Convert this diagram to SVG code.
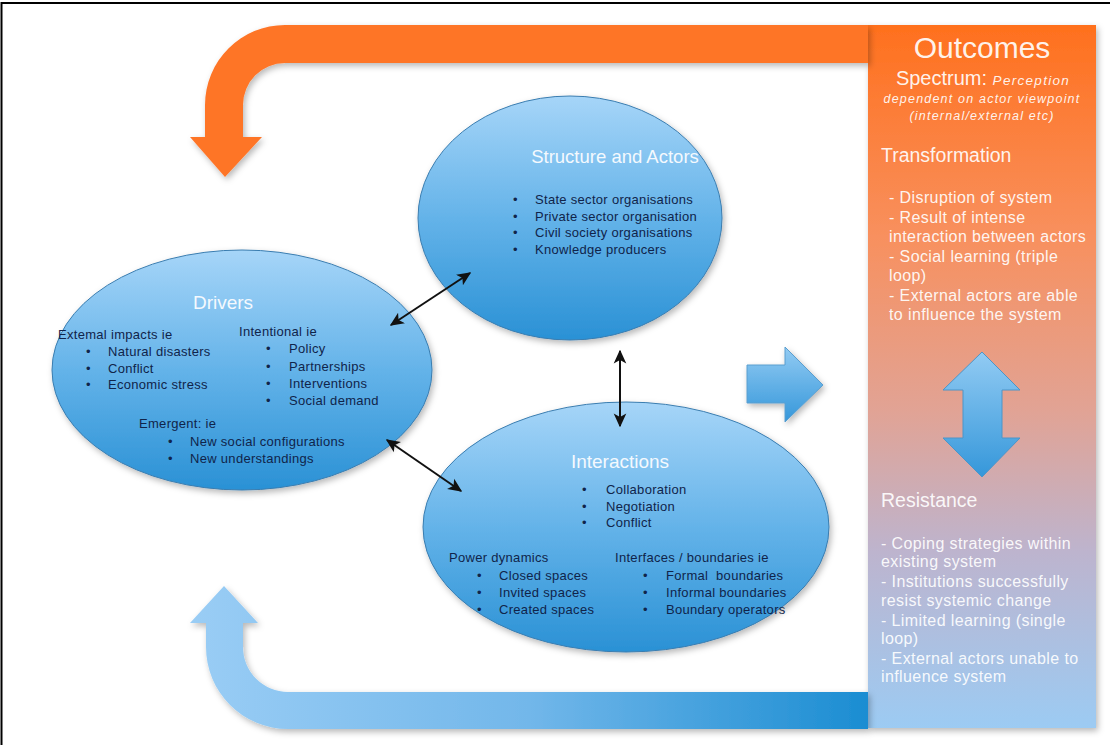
<svg xmlns="http://www.w3.org/2000/svg" width="1110" height="745" viewBox="0 0 1110 745">
<defs>
<style>
.title{font-family:"Liberation Sans",Arial,sans-serif;fill:#F4F9FE;text-anchor:middle}
.sm{font-family:"Liberation Sans",Arial,sans-serif;font-size:13px;letter-spacing:0.3px;fill:#10244a}
.out{font-family:"Liberation Sans",Arial,sans-serif;fill:#FFFFFF;fill-opacity:0.92}
.body{font-size:16px;letter-spacing:0.4px}
.ell{stroke:#3A7DB0;stroke-width:1;filter:url(#sh)}
.conn{stroke:#111;stroke-width:2;fill:none;marker-start:url(#ah);marker-end:url(#ah)}
</style>
<linearGradient id="gEll" x1="0" y1="0" x2="0" y2="1">
<stop offset="0" stop-color="#A6D5F8"/>
<stop offset="0.5" stop-color="#64B3E9"/>
<stop offset="1" stop-color="#2A91D5"/>
</linearGradient>
<linearGradient id="gPanel" x1="0" y1="0" x2="0" y2="1">
<stop offset="0" stop-color="#FF701D"/>
<stop offset="0.3" stop-color="#F8905E"/>
<stop offset="0.55" stop-color="#E1A395"/>
<stop offset="0.75" stop-color="#BDB4CE"/>
<stop offset="1" stop-color="#9CCBF3"/>
</linearGradient>
<linearGradient id="gBand" gradientUnits="userSpaceOnUse" x1="190" y1="0" x2="868" y2="0">
<stop offset="0" stop-color="#9ACDF5"/>
<stop offset="0.5" stop-color="#72B7EA"/>
<stop offset="1" stop-color="#1B8DD2"/>
</linearGradient>
<linearGradient id="gBlk" x1="0" y1="0" x2="0" y2="1">
<stop offset="0" stop-color="#92CBF3"/>
<stop offset="1" stop-color="#3597DA"/>
</linearGradient>
<filter id="sh" x="-10%" y="-10%" width="125%" height="125%">
<feDropShadow dx="2" dy="3" stdDeviation="3" flood-color="#000" flood-opacity="0.28"/>
</filter>
<marker id="ah" viewBox="0 0 10 10" refX="9" refY="5" markerWidth="7" markerHeight="7" orient="auto-start-reverse" markerUnits="strokeWidth">
<path d="M0,0.5 L10,5 L0,9.5 L2.5,5 Z" fill="#111"/>
</marker>
</defs>
<rect width="1110" height="745" fill="#FFFFFF"/>
<path d="M1.5,745 L1.5,3 L1110,3" fill="none" stroke="#000" stroke-width="2"/>

<g id="node-outcomes">
<rect x="868" y="25" width="228" height="703" fill="url(#gPanel)" filter="url(#sh)"/>
<text class="out" x="982" y="58" font-size="30" text-anchor="middle">Outcomes</text>
<text class="out" x="983" y="85" text-anchor="middle"><tspan font-size="20">Spectrum: </tspan><tspan font-size="13.5" font-style="italic" letter-spacing="1.3">Perception</tspan></text>
<text class="out" x="982" y="103" font-size="12.5" font-style="italic" letter-spacing="1.2" text-anchor="middle">dependent on actor viewpoint</text>
<text class="out" x="982" y="120" font-size="12.5" font-style="italic" letter-spacing="1.2" text-anchor="middle">(internal/external etc)</text>
<text class="out" x="881" y="162" font-size="19.5">Transformation</text>
<text class="out body" x="889" y="203">- Disruption of system</text>
<text class="out body" x="889" y="223">- Result of intense</text>
<text class="out body" x="889" y="242">interaction between actors</text>
<text class="out body" x="889" y="262">- Social learning (triple</text>
<text class="out body" x="889" y="281">loop)</text>
<text class="out body" x="889" y="301">- External actors are able</text>
<text class="out body" x="889" y="320">to influence the system</text>
<path d="M982,352 L1020,390 L1002,390 L1002,438 L1020,438 L982,477 L943,438 L963,438 L963,390 L943,390 Z" fill="url(#gBlk)" stroke="#4C95C8" stroke-width="1"/>
<text class="out" x="881" y="507" font-size="19.5">Resistance</text>
<text class="out body" x="881" y="549">- Coping strategies within</text>
<text class="out body" x="881" y="567">existing system</text>
<text class="out body" x="881" y="587">- Institutions successfully</text>
<text class="out body" x="881" y="606">resist systemic change</text>
<text class="out body" x="881" y="626">- Limited learning (single</text>
<text class="out body" x="881" y="644">loop)</text>
<text class="out body" x="881" y="664">- External actors unable to</text>
<text class="out body" x="881" y="682">influence system</text>
</g>

<g id="node-structure">
<ellipse class="ell" cx="570" cy="218" rx="152" ry="122" fill="url(#gEll)"/>
<text class="title" x="615" y="163" font-size="18.5">Structure and Actors</text>
<text class="sm" x="513" y="204">•</text><text class="sm" x="535" y="204">State sector organisations</text>
<text class="sm" x="513" y="221">•</text><text class="sm" x="535" y="221">Private sector organisation</text>
<text class="sm" x="513" y="237">•</text><text class="sm" x="535" y="237">Civil society organisations</text>
<text class="sm" x="513" y="254">•</text><text class="sm" x="535" y="254">Knowledge producers</text>
</g>

<g id="node-drivers">
<ellipse class="ell" cx="242" cy="370" rx="190" ry="120" fill="url(#gEll)"/>
<text class="title" x="223" y="309" font-size="19">Drivers</text>
<text class="sm" x="58" y="339">Extemal impacts ie</text>
<text class="sm" x="86" y="356">•</text><text class="sm" x="108" y="356">Natural disasters</text>
<text class="sm" x="86" y="373">•</text><text class="sm" x="108" y="373">Conflict</text>
<text class="sm" x="86" y="389">•</text><text class="sm" x="108" y="389">Economic stress</text>
<text class="sm" x="239" y="336">Intentional ie</text>
<text class="sm" x="266" y="353">•</text><text class="sm" x="289" y="353">Policy</text>
<text class="sm" x="266" y="371">•</text><text class="sm" x="289" y="371">Partnerships</text>
<text class="sm" x="266" y="388">•</text><text class="sm" x="289" y="388">Interventions</text>
<text class="sm" x="266" y="405">•</text><text class="sm" x="289" y="405">Social demand</text>
<text class="sm" x="139" y="428">Emergent: ie</text>
<text class="sm" x="168" y="446">•</text><text class="sm" x="190" y="446">New social configurations</text>
<text class="sm" x="168" y="463">•</text><text class="sm" x="190" y="463">New understandings</text>
</g>

<g id="node-interactions">
<ellipse class="ell" cx="626" cy="527" rx="203" ry="125" fill="url(#gEll)"/>
<text class="title" x="620" y="468" font-size="19">Interactions</text>
<text class="sm" x="582" y="494">•</text><text class="sm" x="606" y="494">Collaboration</text>
<text class="sm" x="582" y="511">•</text><text class="sm" x="606" y="511">Negotiation</text>
<text class="sm" x="582" y="527">•</text><text class="sm" x="606" y="527">Conflict</text>
<text class="sm" x="449" y="562">Power dynamics</text>
<text class="sm" x="477" y="580">•</text><text class="sm" x="499" y="580">Closed spaces</text>
<text class="sm" x="477" y="597">•</text><text class="sm" x="499" y="597">Invited spaces</text>
<text class="sm" x="477" y="614">•</text><text class="sm" x="499" y="614">Created spaces</text>
<text class="sm" x="615" y="562">Interfaces / boundaries ie</text>
<text class="sm" x="643" y="580">•</text><text class="sm" x="666" y="580" xml:space="preserve">Formal  boundaries</text>
<text class="sm" x="643" y="597">•</text><text class="sm" x="666" y="597">Informal boundaries</text>
<text class="sm" x="643" y="614">•</text><text class="sm" x="666" y="614">Boundary operators</text>
</g>

<g id="connectors">
<path id="loop-top" d="M868,25 L285,25 A80,80 0 0 0 205,105 L205,137 L190,137 L225,177 L262,137 L243,137 L243,105 A42,42 0 0 1 285,63 L868,63 Z" fill="#FE7528" filter="url(#sh)"/>
<path id="loop-bottom" d="M868,692 L288,692 A45,45 0 0 1 243,647 L243,623 L258,623 L224,586 L190,623 L206,623 L206,647 A82,82 0 0 0 288,729 L868,729 Z" fill="url(#gBand)" filter="url(#sh)"/>
<path id="to-outcomes" d="M747,365 L785,365 L785,347 L823,385 L785,422 L785,403 L747,403 Z" fill="url(#gBlk)" stroke="#5A9ECF" stroke-width="1" filter="url(#sh)"/>
<line class="conn" x1="391" y1="325" x2="470" y2="273"/>
<line class="conn" x1="620" y1="351" x2="620" y2="426"/>
<line class="conn" x1="387" y1="440" x2="461" y2="491"/>
</g>
</svg>
